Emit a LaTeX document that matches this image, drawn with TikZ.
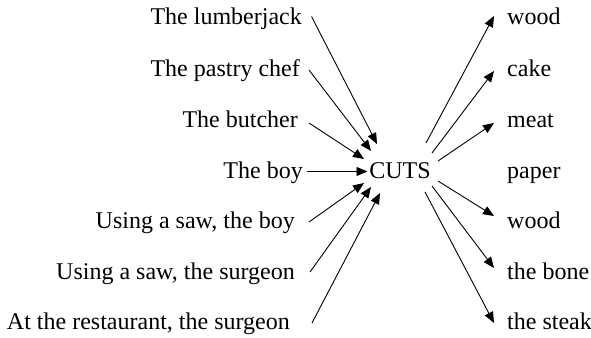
\documentclass[tikz,border=0pt]{standalone}
\usepackage{fontspec}
\setmainfont{Liberation Serif}
\usetikzlibrary{arrows.meta}
\begin{document}
\begin{tikzpicture}[x=1pt,y=-1pt,
  lab/.style={inner sep=0pt,font=\fontsize{24}{28}\selectfont},
  llab/.style={lab,anchor=base east},
  rlab/.style={lab,anchor=base west},
  conn/.style={line width=0.9pt,-{Triangle[length=11pt,width=9pt]}},
  plain/.style={line width=0.9pt}]
\useasboundingbox (0,0) rectangle (591,337);
% left labels
\node[llab] (l1) at (302,25) {The lumberjack};
\node[llab] (l2) at (300,76) {The pastry chef};
\node[llab] (l3) at (298,127) {The butcher};
\node[llab] (l4) at (303,178) {The boy};
\node[llab] (l5) at (295,228) {Using a saw, the boy};
\node[llab] (l6) at (295,279) {Using a saw, the surgeon};
\node[llab] (l7) at (290,329) {At the restaurant, the surgeon};
% centre
\node[lab,anchor=base] (cuts) at (400,178) {CUTS};
% right labels
\node[rlab] (r1) at (507,25) {wood};
\node[rlab] (r2) at (507,76) {cake};
\node[rlab] (r3) at (507,127) {meat};
\node[rlab] (r4) at (507,178) {paper};
\node[rlab] (r5) at (507,228) {wood};
\node[rlab] (r6) at (507,279) {the bone};
\node[rlab] (r7) at (507,329) {the steak};
% left connector ends
\coordinate (ls1) at (311.5,16.5); \coordinate (lt1) at (377,144);
\coordinate (ls2) at (309,70);     \coordinate (lt2) at (371,151);
\coordinate (ls3) at (309,123);    \coordinate (lt3) at (364,159);
\coordinate (ls4) at (307,171.5);  \coordinate (lt4) at (367.5,171.5);
\coordinate (ls5) at (309,222);    \coordinate (lt5) at (364,183);
\coordinate (ls6) at (310,272);    \coordinate (lt6) at (371,187);
\coordinate (ls7) at (312,323);    \coordinate (lt7) at (380,193);
% right connector ends
\coordinate (rs1) at (426,143);  \coordinate (rt1) at (494,16);
\coordinate (rs2) at (432,153);  \coordinate (rt2) at (494,71);
\coordinate (rs3) at (438,161);  \coordinate (rt3) at (494,123);
\coordinate (rs5) at (438,181);  \coordinate (rt5) at (494,216);
\coordinate (rs6) at (432,186);  \coordinate (rt6) at (494,268);
\coordinate (rs7) at (425,192);  \coordinate (rt7) at (494,323);
\foreach \i in {1,...,7} {\draw[conn] (ls\i) -- (lt\i);}
\foreach \i in {1,2,3,5,6,7} {\draw[conn] (rs\i) -- (rt\i);}
\end{tikzpicture}
\end{document}
